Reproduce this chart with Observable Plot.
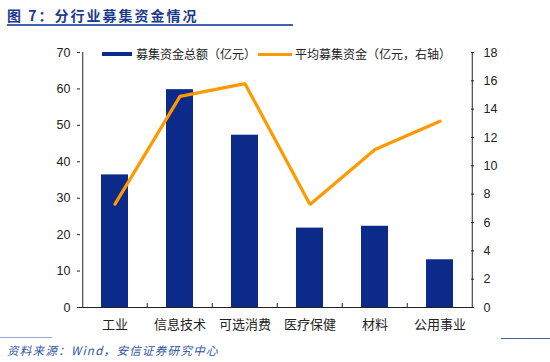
<!DOCTYPE html>
<html><head><meta charset="utf-8">
<script src="https://cdn.jsdelivr.net/npm/d3@7"></script>
<script src="https://cdn.jsdelivr.net/npm/@observablehq/plot@0.6"></script>
<style>
html,body{margin:0;padding:0;background:#fff;}
#wrap{position:relative;width:550px;height:362px;overflow:hidden;font-family:"Liberation Sans",Arial,"Noto Sans CJK SC",sans-serif;}
#title{position:absolute;left:7px;top:5px;font:bold 14px "Noto Sans CJK SC",sans-serif;color:#1B3A8C;letter-spacing:2px;}
#tline{position:absolute;left:7px;top:24px;width:286px;height:2px;background:#3F62AE;}
#chart{position:absolute;left:0;top:40px;}
.lg{position:absolute;top:45px;font:12px "Noto Sans CJK SC",sans-serif;color:#222;white-space:nowrap;}
.sw{position:absolute;height:4px;top:52px;}
#bl1{position:absolute;left:0;top:337px;width:52px;height:1px;background:#9AAAD0;}
#bl2{position:absolute;left:501px;top:338px;width:49px;height:1px;background:#3F62AE;}
#src{position:absolute;left:7px;top:342px;font:italic 11.5px "Noto Sans CJK SC",sans-serif;color:#2F55A4;letter-spacing:1.3px;}
</style></head>
<body><div id="wrap">
<div id="title">图 7：分行业募集资金情况</div>
<div id="tline"></div>
<div id="chart"></div>
<div class="sw" style="left:102px;width:30px;background:#0C2A8A"></div>
<div class="lg" style="left:136px">募集资金总额（亿元）</div>
<div class="sw" style="left:258px;width:34px;height:3px;top:53px;background:#FF9900"></div>
<div class="lg" style="left:295px">平均募集资金（亿元，右轴）</div>
<div id="bl1"></div><div id="bl2"></div>
<div id="src">资料来源：Wind，安信证券研究中心</div>
</div>
<script>
const categories = ["工业","信息技术","可选消费","医疗保健","材料","公用事业"];
const totals = [36.4, 59.8, 47.3, 21.8, 22.3, 13.1];
const averages = [7.3, 14.9, 15.8, 7.27, 11.15, 13.15];
const leftTicks = [0,10,20,30,40,50,60,70];
const rightTicks = [0,2,4,6,8,10,12,14,16,18];
const leftMax = 70, rightMax = 18;
const k = leftMax / rightMax;

const data = categories.map((c,i)=>({cat:c,total:totals[i],avg:averages[i]*k}));

const W = 550, H = 295, mL = 80, mR = 77, mT = 12, mB = 28;
const step = (W - mL - mR) / categories.length;
const plotH = H - mT - mB;

const chart = Plot.plot({
  width: W, height: H,
  marginLeft: mL, marginRight: mR, marginTop: mT, marginBottom: mB,
  style: {background: "transparent", fontFamily: "'Liberation Sans', Arial, sans-serif", fontSize: "12px", color: "#222"},
  x: {domain: categories, paddingInner: 0.59, paddingOuter: 0.295, axis: null},
  y: {domain: [0, leftMax], axis: null},
  marks: [
    Plot.barY(data, {x: "cat", y: "total", fill: "#0C2A8A"}),
    Plot.line(data, {x: "cat", y: "avg", stroke: "#FF9900", strokeWidth: 3.2, strokeLinejoin: "miter"}),
    Plot.ruleX(categories.slice(1), {x: d=>d, dx: -step/2, insetTop: plotH - 4, stroke: "#222"}),
    Plot.axisX({tickSize: 0, tickPadding: 12, fontSize: 13, fontFamily: "'Noto Sans CJK SC', sans-serif", label: null}),
    Plot.axisY(leftTicks, {anchor: "left", tickSize: 3, tickPadding: 7, fontSize: 12.5, label: null}),
    Plot.axisY(rightTicks.map(t=>t*k), {anchor: "right", tickSize: -3, tickPadding: 13, fontSize: 12.5, tickFormat: d => String(Math.round(d/k)), label: null}),
    Plot.ruleX([categories[0]], {x: d=>d, dx: -step/2 + 0.5, stroke: "#222"}),
    Plot.ruleX([categories[categories.length-1]], {x: d=>d, dx: step/2 - 0.5, stroke: "#222"}),
    Plot.ruleY([0], {stroke: "#222"})
  ]
});
document.getElementById("chart").appendChild(chart);
</script>
</body></html>
